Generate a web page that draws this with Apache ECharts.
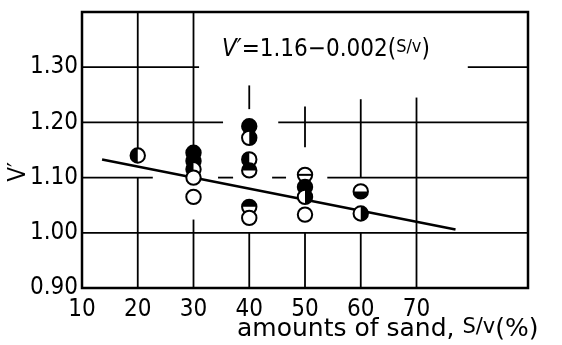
<!DOCTYPE html>
<html>
<head>
<meta charset="utf-8">
<script src="https://cdn.jsdelivr.net/npm/echarts@6/dist/echarts.min.js"></script>
<style>
  html, body { margin: 0; padding: 0; background: #fff; }
  #chart { width: 562px; height: 345px; }
</style>
</head>
<body>
<div id="chart"></div>
<script>
// Sand content S/V (%) for each measured specimen
const sandPct = [20, 30, 30, 30, 30, 30, 40, 40, 40, 40, 40, 40, 50, 50, 50, 50, 60, 60];
// Measured V' for each specimen
const vPrime  = [1.14, 1.145, 1.13, 1.115, 1.10, 1.065, 1.193, 1.172, 1.133, 1.113, 1.047, 1.027, 1.105, 1.083, 1.065, 1.033, 1.075, 1.035];
// Marker style per specimen
const markKind = ['left', 'full', 'full', 'left', 'open', 'open', 'full', 'right', 'left', 'top', 'top', 'open', 'bar', 'full', 'right', 'open', 'bottom', 'right'];

// Fitted relation V' = a + b (S/V), drawn over the range of the fit
const fitA = 1.16;
const fitB = -0.002;
const fitRange = [13.6, 77];

// Tick labels
const xTicks = ['10', '20', '30', '40', '50', '60', '70'];
const yTicks = ['0.90', '1.00', '1.10', '1.20', '1.30'];

// Broken grid lines of the figure: [x1, y1, x2, y2] in axis units
const gridSegs = [
  [20, 1.40, 20, 1.147], [20, 1.10, 20, 0.90],
  [30, 1.40, 30, 1.156], [30, 1.024, 30, 0.90],
  [40, 1.267, 40, 1.224], [40, 1.00, 40, 0.90],
  [50, 1.229, 50, 1.155], [50, 1.00, 50, 0.90],
  [60, 1.242, 60, 1.10], [60, 1.00, 60, 0.90],
  [70, 1.245, 70, 0.90],
  [10, 1.30, 31, 1.30], [79.2, 1.30, 90, 1.30],
  [10, 1.20, 35.3, 1.20], [45.2, 1.20, 90, 1.20],
  [10, 1.10, 22.7, 1.10], [34.4, 1.10, 37.1, 1.10], [44.1, 1.10, 46.6, 1.10], [54, 1.10, 90, 1.10],
  [10, 1.00, 90, 1.00]
];

const FONT = "'Liberation Sans Narrow', 'DejaVu Sans Condensed', 'Liberation Sans', sans-serif";
const WIDE = "'DejaVu Sans', 'Liberation Sans', sans-serif";
const KINDS = ['full', 'open', 'left', 'right', 'top', 'bottom', 'bar'];

const points = sandPct.map((x, i) => [x, vPrime[i], KINDS.indexOf(markKind[i])]);
const fitLine = fitRange.map(s => [s, +(fitA + fitB * s).toFixed(4)]);

const R = 7.2;
function renderMarker(params, api) {
  const c = api.coord([api.value(0), api.value(1)]);
  const kind = KINDS[api.value(2)];
  const kids = [{
    type: 'circle',
    shape: { cx: c[0], cy: c[1], r: R },
    style: { fill: kind === 'full' ? '#000' : '#fff', stroke: null }
  }];
  const half = {
    left:   [Math.PI / 2, Math.PI * 1.5],
    right:  [-Math.PI / 2, Math.PI / 2],
    top:    [Math.PI, Math.PI * 2],
    bottom: [0, Math.PI]
  }[kind];
  if (half) {
    kids.push({
      type: 'sector',
      shape: { cx: c[0], cy: c[1], r: R, r0: 0, startAngle: half[0], endAngle: half[1], clockwise: true },
      style: { fill: '#000' }
    });
  }
  if (kind === 'bar') {
    kids.push({
      type: 'line',
      shape: { x1: c[0] - R, y1: c[1], x2: c[0] + R, y2: c[1] },
      style: { stroke: '#000', lineWidth: 2 }
    });
  }
  kids.push({
    type: 'circle',
    shape: { cx: c[0], cy: c[1], r: R },
    style: { fill: null, stroke: '#000', lineWidth: 2 }
  });
  return { type: 'group', children: kids };
}

function renderSeg(params, api) {
  const a = api.coord([api.value(0), api.value(1)]);
  const b = api.coord([api.value(2), api.value(3)]);
  return {
    type: 'line',
    shape: { x1: a[0], y1: a[1], x2: b[0], y2: b[1] },
    style: { stroke: '#000', lineWidth: 1.8 }
  };
}

const chart = echarts.init(document.getElementById('chart'), null, { renderer: 'canvas' });
chart.setOption({
  animation: false,
  backgroundColor: '#fff',
  grid: {
    left: 82, right: 34, top: 12, bottom: 57,
    containLabel: false, outerBoundsMode: 'none',
    show: true, borderColor: '#000', borderWidth: 2.5, backgroundColor: 'transparent'
  },
  xAxis: {
    type: 'value', min: 10, max: 90, interval: 10,
    axisLine: { show: false }, axisTick: { show: false }, splitLine: { show: false },
    axisLabel: {
      margin: 10, color: '#000', fontSize: 24, fontFamily: FONT,
      formatter: v => { const s = String(Math.round(v)); return xTicks.includes(s) ? s : ''; }
    }
  },
  yAxis: {
    type: 'value', min: 0.9, max: 1.4, interval: 0.1,
    axisLine: { show: false }, axisTick: { show: false }, splitLine: { show: false },
    axisLabel: {
      margin: 4, color: '#000', fontSize: 24, fontFamily: FONT,
      formatter: v => { const s = v.toFixed(2); return yTicks.includes(s) ? s : ''; }
    }
  },
  graphic: [
    {
      type: 'text',
      left: 222, top: 38,
      style: {
        text: "{i|V\u2032}=1.16\u22120.002({s|S/v})",
        font: "24px " + FONT,
        fill: '#000',
        rich: {
          i: { fontSize: 24, fontFamily: FONT, fontStyle: 'italic', fill: '#000' },
          s: { fontSize: 18, fontFamily: FONT, fill: '#000', verticalAlign: 'top' }
        }
      }
    },
    {
      // x-axis title
      type: 'text',
      left: 237, top: 317,
      style: {
        text: 'amounts of sand, {s|S/v}(%)',
        font: "25px " + WIDE,
        fill: '#000',
        rich: {
          s: { fontSize: 21, fontFamily: WIDE, fill: '#000', verticalAlign: 'top' }
        }
      }
    },
    {
      // y-axis title, rotated
      type: 'text',
      x: 19, y: 172,
      rotation: Math.PI / 2,
      style: {
        text: "V\u2032",
        font: "24px " + FONT,
        fill: '#000',
        align: 'center',
        verticalAlign: 'middle'
      }
    }
  ],
  series: [
    {
      type: 'custom', name: 'grid', z: 1, silent: true,
      renderItem: renderSeg, data: gridSegs,
      encode: { x: [0, 2], y: [1, 3] }
    },
    {
      type: 'line', name: 'fit', z: 2, silent: true,
      data: fitLine, showSymbol: false, symbol: 'none',
      lineStyle: { color: '#000', width: 2.5 }
    },
    {
      type: 'custom', name: 'specimens', z: 3, silent: true,
      renderItem: renderMarker, data: points,
      encode: { x: 0, y: 1 }
    }
  ]
});
</script>
</body>
</html>
